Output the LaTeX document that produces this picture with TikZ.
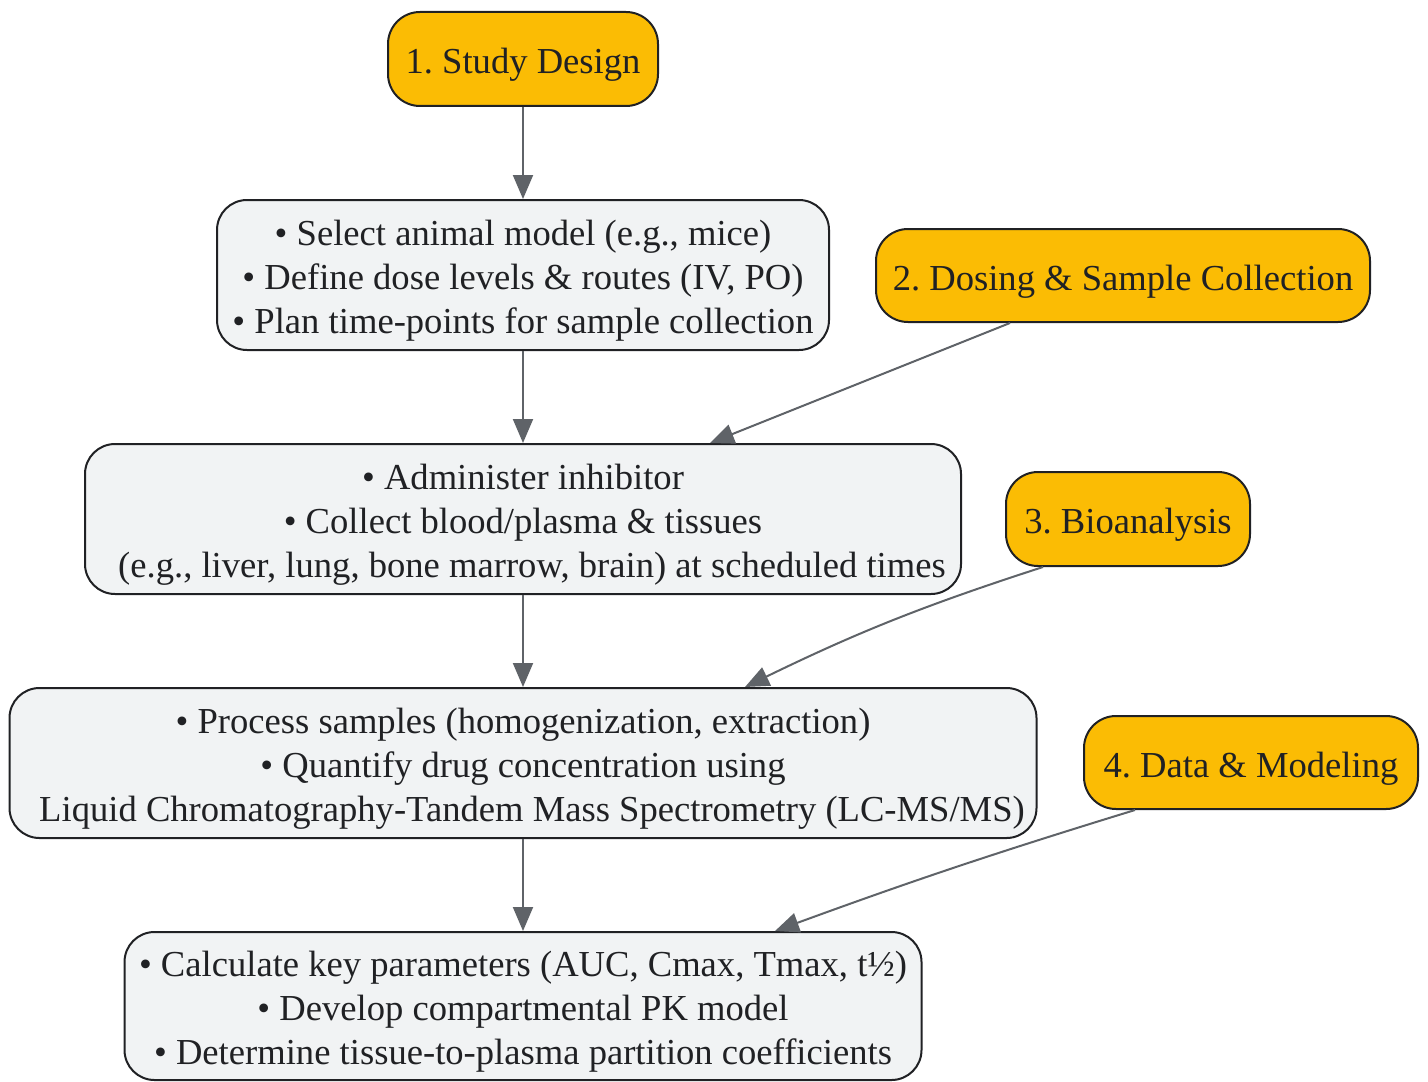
\documentclass[tikz,border=0pt]{standalone}
\usepackage{fontspec}
\setmainfont{Liberation Serif}
\usetikzlibrary{arrows.meta}
\frenchspacing

\definecolor{stagegold}{HTML}{FBBC04}
\definecolor{taskgray}{HTML}{F1F3F4}
\definecolor{edgegray}{HTML}{5F6368}
\definecolor{inkdark}{HTML}{202124}

% extra room above the first line, pushes the text down a bit
\newcommand{\toproom}{\rule{0pt}{18.5pt}}

\tikzset{
  stage/.style={draw=inkdark, line width=1pt, fill=stagegold, rounded corners=16pt,
    align=center, inner sep=0pt, text=inkdark, font=\fontsize{18.3}{22}\selectfont,
    execute at begin node=\toproom},
  task/.style={draw=inkdark, line width=1pt, fill=taskgray, rounded corners=15pt,
    align=center, inner sep=0pt, text=inkdark, font=\fontsize{18.3}{22}\selectfont},
  flow/.style={draw=edgegray, line width=1pt, -{Triangle[length=12pt,width=10pt]}},
}

\begin{document}
\begin{tikzpicture}[x=0.5pt,y=-0.5pt]
	\useasboundingbox (0,0) rectangle (1428,1081);
	% stages
	\node[stage, minimum width=135pt, minimum height=47pt] (design) at (523,59) {1. Study Design};
	\node[stage, minimum width=247pt, minimum height=46.5pt] (dosing) at (1123,275.5) {2. Dosing \& Sample Collection};
	\node[stage, minimum width=122pt, minimum height=47pt] (bio) at (1128,519) {3. Bioanalysis};
	\node[stage, minimum width=167pt, minimum height=46.5pt] (model) at (1251,762.5) {4. Data \& Modeling};
	% tasks
	\node[task, minimum width=306pt, minimum height=75pt] (plan) at (523,275) {%
		\toproom• Select animal model (e.g., mice)\\
		• Define dose levels \& routes (IV, PO)\\
		• Plan time-points for sample collection};
	\node[task, minimum width=438pt, minimum height=75pt] (collect) at (523,519) {%
		\toproom• Administer inhibitor\\
		• Collect blood/plasma \& tissues\\
		\hspace*{9pt}(e.g., liver, lung, bone marrow, brain) at scheduled times};
	\node[task, minimum width=513.5pt, minimum height=75pt] (assay) at (523,763) {%
		\toproom• Process samples (homogenization, extraction)\\
		• Quantify drug concentration using\\
		\hspace*{9pt}Liquid Chromatography-Tandem Mass Spectrometry (LC-MS/MS)};
	\node[task, minimum width=398.5pt, minimum height=74pt] (pk) at (523,1006) {%
		\toproom• Calculate key parameters (AUC, Cmax, Tmax, t½)\\
		• Develop compartmental PK model\\
		• Determine tissue-to-plasma partition coefficients};
	% main flow
	\draw[flow] (design) -- (plan);
	\draw[flow] (plan) -- (collect);
	\draw[flow] (collect) -- (assay);
	\draw[flow] (assay) -- (pk);
	% stage links
	\draw[flow] ([xshift=-56.5pt]dosing.south) -- ([xshift=93.5pt]collect.north);
	\draw[flow] ([xshift=-42.5pt]bio.south) to[bend right=4] ([xshift=111pt]assay.north);
	\draw[flow] ([xshift=-58pt]model.south) to[bend right=1.5] ([xshift=126pt]pk.north);
\end{tikzpicture}
\end{document}
